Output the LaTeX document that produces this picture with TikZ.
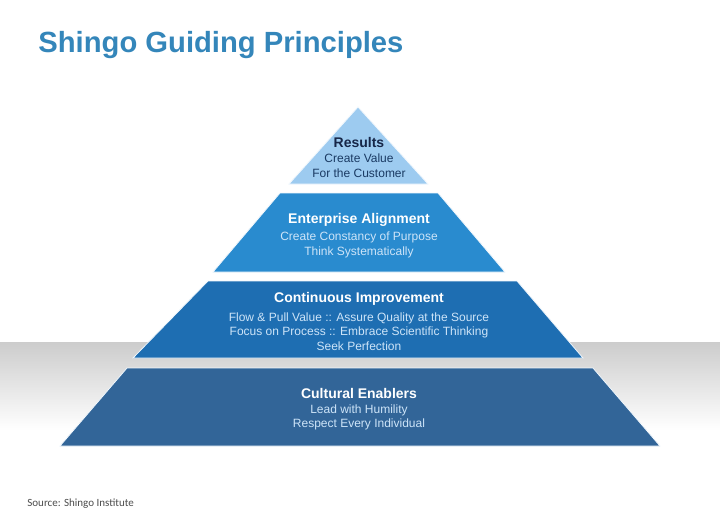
\documentclass[tikz,border=0pt]{standalone}
\usepackage{fontspec}
\setmainfont{Liberation Sans}
\newfontfamily\notefont{Carlito}
\usepackage{tikz}
\usetikzlibrary{positioning,shadings}
\usepackage{xcolor}
\definecolor{ShingoTitle}{RGB}{52,134,186}
\definecolor{ShingoLight}{RGB}{157,203,240}
\definecolor{ShingoMid}{RGB}{41,139,207}
\definecolor{ShingoDeep}{RGB}{30,110,178}
\definecolor{ShingoNavy}{RGB}{50,101,152}
\definecolor{ShingoInk}{RGB}{22,38,72}
\definecolor{ShingoSub}{RGB}{205,228,248}

\begin{document}
\begin{tikzpicture}[x=0.5pt,y=-0.5pt,
  tier/.style={draw=white!85!ShingoLight,line width=0.4pt},
  head/.style={font=\fontsize{7}{8}\selectfont\bfseries,text=white,inner sep=0pt},
  body/.style={font=\fontsize{6}{7.25}\selectfont,text=ShingoSub,align=center,inner sep=0pt},
]
\useasboundingbox[fill=white] (0,0) rectangle (720,509);
% grey floor band
\shade[top color=black!20,bottom color=white] (0,342) rectangle (720,430);
\node[font=\fontsize{14.6}{17}\selectfont\bfseries,text=ShingoTitle,anchor=base west,inner sep=0pt]
  (title) at (38,52) {Shingo Guiding Principles};
% tiers
\draw[tier,fill=ShingoLight] (358,107) -- (428,184) -- (289,184) -- cycle;
\draw[tier,fill=ShingoMid] (280,193) -- (438,193) -- (505,272) -- (213,272) -- cycle;
\draw[tier,fill=ShingoDeep] (208,281) -- (517,281) -- (583,358) -- (133,358) -- cycle;
\draw[tier,fill=ShingoNavy] (127,368) -- (593,368) -- (660,446) -- (60,446) -- cycle;
% texts
\node[head,text=ShingoInk] (reshead) at (359,142) {Results};
\node[body,text=ShingoInk!80!ShingoMid] (resbody) at (359,165.5) {Create Value\\For the Customer};
\node[head] (enthead) at (359,220) {Enterprise Alignment};
\node[body] (entbody) at (359,245) {Create Constancy of Purpose\\Think Systematically};
\node[head] (imphead) at (359,299) {Continuous Improvement};
\node[body] (impbody) at (359,331.5)
  {Flow \& Pull Value :: Assure Quality at the Source\\Focus on Process :: Embrace Scientific Thinking\\Seek Perfection};
\node[head] (culthead) at (359,393) {Cultural Enablers};
\node[body] (cultbody) at (359,417.5) {Lead with Humility\\Respect Every Individual};
\node[font=\notefont\fontsize{5.5}{6}\selectfont,text=black!70,anchor=west,inner sep=0pt]
  (source) at (27,504) {Source: Shingo Institute};
\end{tikzpicture}
\end{document}
